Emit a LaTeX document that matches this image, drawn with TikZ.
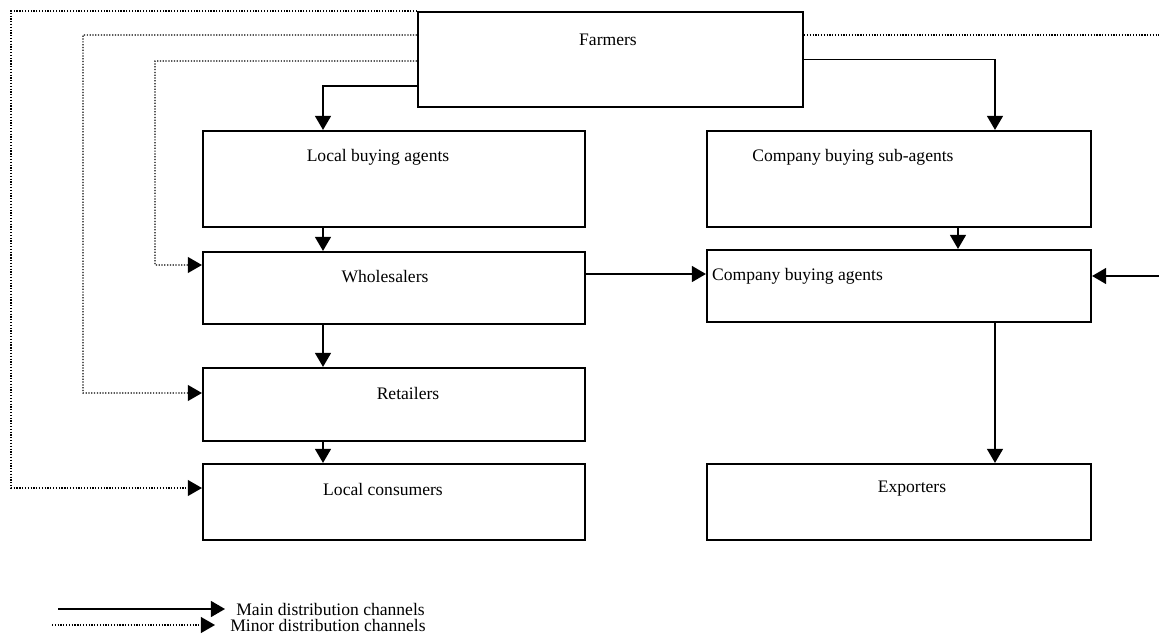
\documentclass[tikz,border=0pt]{standalone}
\usepackage{fontspec}
\setmainfont{Liberation Serif}
\usetikzlibrary{arrows.meta}

\begin{document}
\begin{tikzpicture}[box/.style={draw, line width=1.2pt, inner sep=0pt}, lbl/.style={inner sep=1pt, font=\fontsize{10}{12}\selectfont}, main/.style={line width=1.1pt}, minor/.style={line width=0.8pt, dash pattern=on 0.7pt off 0.9pt}, >={Triangle[length=8pt,width=9pt]}]
        \useasboundingbox (0,0) rectangle (23.18,12.86);
        % boxes
        \node[box, minimum width=7.70cm, minimum height=1.90cm] (farmers) at (12.21, 11.67) {};
        \node[box, minimum width=7.64cm, minimum height=1.92cm] (lba) at (7.88, 9.28) {};
        \node[box, minimum width=7.68cm, minimum height=1.92cm] (sba) at (17.98, 9.28) {};
        \node[box, minimum width=7.64cm, minimum height=1.44cm] (whs) at (7.88, 7.10) {};
        \node[box, minimum width=7.68cm, minimum height=1.44cm] (cba) at (17.98, 7.14) {};
        \node[box, minimum width=7.64cm, minimum height=1.46cm] (ret) at (7.88, 4.77) {};
        \node[box, minimum width=7.64cm, minimum height=1.52cm] (lc) at (7.88, 2.82) {};
        \node[box, minimum width=7.68cm, minimum height=1.52cm] (exp) at (17.98, 2.82) {};
        % texts
        \node[lbl] (farmersT) at (12.16, 12.06) {Farmers};
        \node[lbl] (lbaT) at (7.56, 9.72) {Local buying agents};
        \node[lbl] (sbaT) at (17.06, 9.72) {Company buying sub-agents};
        \node[lbl] (whsT) at (7.70, 7.32) {Wholesalers};
        \node[lbl, anchor=west] (cbaT) at (14.20, 7.34) {Company buying agents};
        \node[lbl] (retT) at (8.16, 5.00) {Retailers};
        \node[lbl] (lcT) at (7.66, 3.08) {Local consumers};
        \node[lbl] (expT) at (18.24, 3.08) {Exporters};
        % main channels
        \draw[main, ->] ([yshift=-0.53cm]farmers.west) -| ([xshift=-1.42cm]lba.north);
        \draw[main, ->] (farmers.east) -| ([xshift=1.92cm]sba.north);
        \draw[main, ->] ([xshift=-1.42cm]lba.south) -- ([xshift=-1.42cm]whs.north);
        \draw[main, ->] ([xshift=1.18cm]sba.south) -- ([xshift=1.18cm]cba.north);
        \draw[main, ->] ([yshift=0.28cm]whs.east) -- ([yshift=0.28cm]whs.east -| cba.west);
        \draw[main, ->] ([xshift=-1.42cm]whs.south) -- ([xshift=-1.42cm]ret.north);
        \draw[main, ->] ([xshift=-1.42cm]ret.south) -- ([xshift=-1.42cm]lc.north);
        \draw[main, ->] ([xshift=1.92cm]cba.south) -- ([xshift=1.92cm]exp.north);
        \coordinate (eastIn) at (23.18, 7.34);
        \draw[main, ->] (eastIn) -- (eastIn -| cba.east);
        % minor channels
        \draw[minor, ->] (farmers.north west) -| (0.22, 3.10) -- ([yshift=0.28cm]lc.west);
        \draw[minor, ->] ([yshift=0.49cm]farmers.west) -| (1.66, 5.00) -- ([yshift=0.23cm]ret.west);
        \draw[minor, ->] ([yshift=-0.03cm]farmers.west) -| (3.10, 7.56) -- ([yshift=0.46cm]whs.west);
        \coordinate (eastOut) at (23.18, 12.16);
        \draw[minor] ([yshift=0.49cm]farmers.east) -- (eastOut);
        % legend
        \coordinate (mainA) at (1.16, 0.68);
        \node[lbl, anchor=west, inner xsep=0.22cm] (mainT) at (4.50, 0.68) {Main distribution channels};
        \draw[main, ->] (mainA) -- (mainT.west);
        \coordinate (minorA) at (1.04, 0.36);
        \node[lbl, anchor=west, inner xsep=0.30cm] (minorT) at (4.30, 0.36) {Minor distribution channels};
        \draw[minor, ->] (minorA) -- (minorT.west);
\end{tikzpicture}
\end{document}
